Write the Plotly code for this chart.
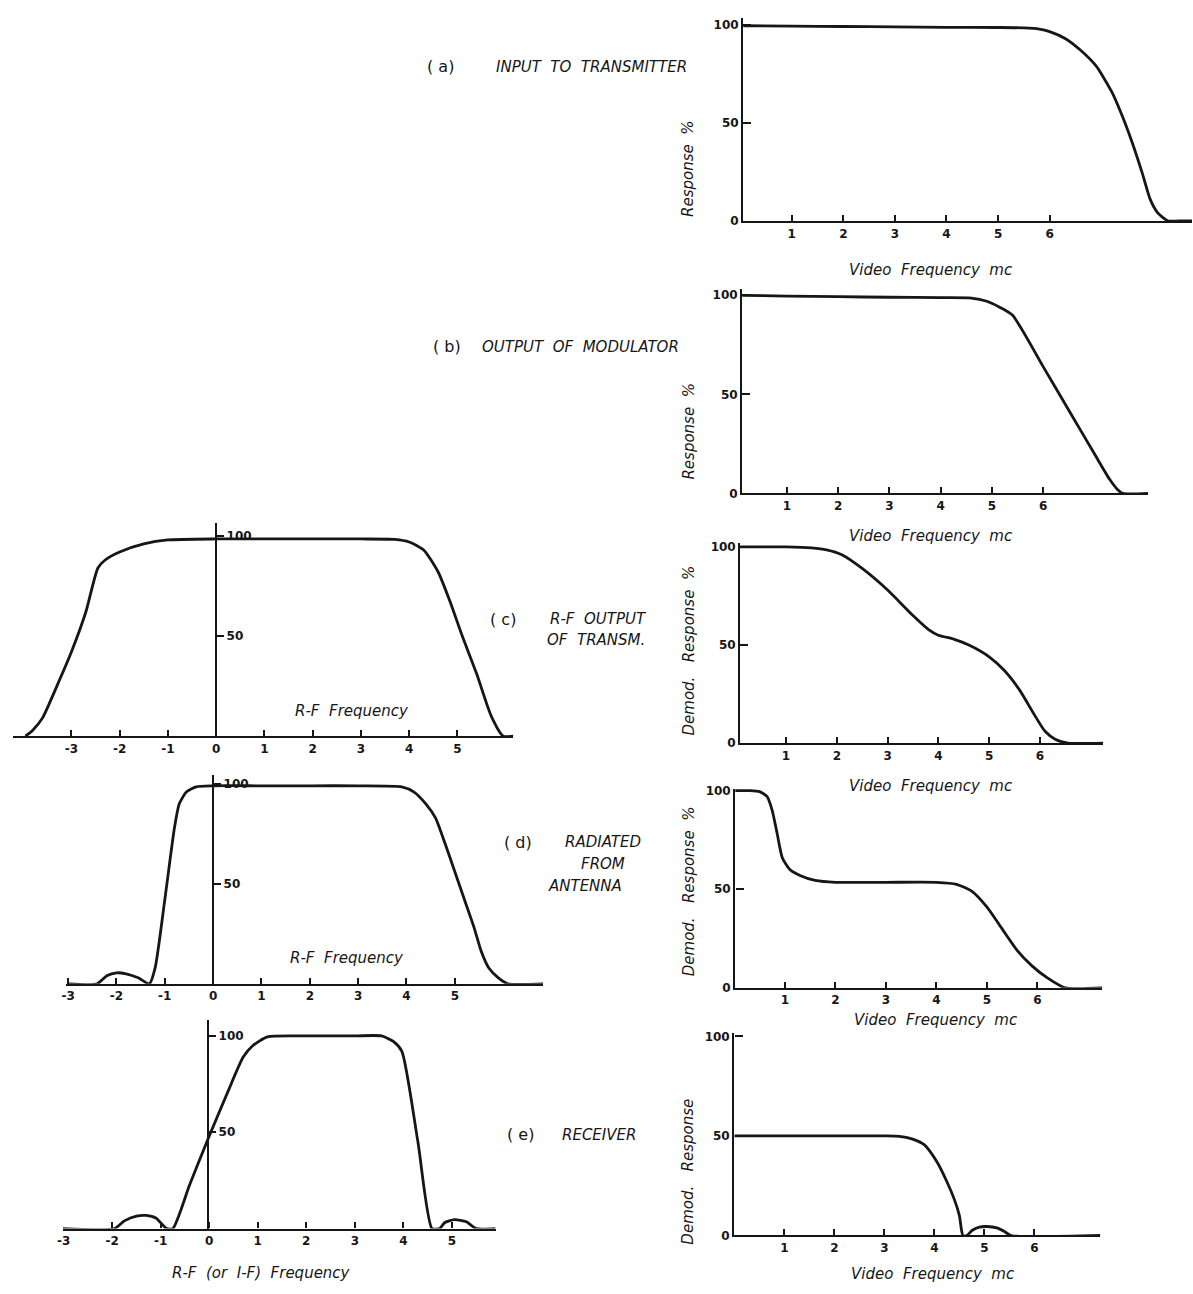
import plotly.graph_objects as go

W, H = 1193, 1294

# ---------------- data ----------------
# (a) input to transmitter, video frequency (mc) vs response %
a_x = [0, 1, 2, 3, 4, 5, 5.5, 5.8, 6.0, 6.3, 6.6, 6.9, 7.2, 7.4, 7.6, 7.8, 7.95, 8.1, 8.3, 8.5, 8.76]
a_y = [99.5, 99.3, 99.1, 98.9, 98.7, 98.6, 98.4, 97.8, 96.5, 93, 87, 79, 66, 54, 40, 24, 11, 4, 0, 0, 0]

# (b) output of modulator
b_x = [0, 1, 2, 3, 4, 4.6, 4.9, 5.15, 5.4, 6.0, 6.5, 7.0, 7.3, 7.45, 7.55, 8.05]
b_y = [100, 99.6, 99.3, 99, 98.8, 98.6, 97, 94, 90, 64, 42, 20, 7, 2, 0, 0]

# (c) R-F output of transmitter: R-F spectrum and demodulated video response
c_rf_x = [-3.95, -3.8, -3.6, -3.3, -3.0, -2.7, -2.45, -2.3, -2.0, -1.5, -1.0, 0, 1, 2, 3, 3.7, 4.0, 4.3, 4.6, 4.85, 5.1, 5.4, 5.7, 5.95, 6.16]
c_rf_y = [0, 3, 9, 25, 42, 62, 84, 88, 92, 96, 98, 98.5, 98.5, 98.5, 98.5, 98.3, 97, 93, 82, 67, 50, 31, 10, 0, 0]
c_v_x = [0, 0.5, 1, 1.5, 1.8, 2.1, 2.5, 3.0, 3.5, 3.8, 4.0, 4.3, 4.6, 5.0, 5.3, 5.6, 5.9, 6.1, 6.3, 6.55, 7.25]
c_v_y = [100, 100, 100, 99.5, 98.5, 96, 89, 78, 65, 58, 55, 53, 50, 44, 37, 27, 14, 6, 2, 0, 0]

# (d) radiated from antenna
d_rf_x = [-3, -2.4, -2.2, -2.0, -1.8, -1.55, -1.32, -1.2, -1.0, -0.8, -0.7, -0.55, -0.35, 0, 1, 2, 3, 3.9, 4.15, 4.4, 4.6, 4.8, 5.0, 5.2, 5.4, 5.55, 5.7, 5.9, 6.1, 6.83]
d_rf_y = [0, 0, 4, 5.5, 5, 3, 0, 8, 42, 78, 90, 96, 98.5, 99, 99, 99, 99, 98.5, 96, 90, 83, 70, 56, 42, 28, 16, 8, 3, 0, 0]
d_v_x = [0, 0.3, 0.5, 0.65, 0.75, 0.85, 0.95, 1.1, 1.3, 1.6, 2.0, 3.0, 4.0, 4.4, 4.7, 5.0, 5.3, 5.6, 5.9, 6.2, 6.55, 7.29]
d_v_y = [100, 100, 99.5, 97, 90, 78, 66, 60, 57, 54.5, 53.5, 53.5, 53.5, 52.5, 49, 41, 30, 19, 11, 5, 0, 0]

# (e) receiver
e_rf_x = [-3.02, -1.95, -1.75, -1.5, -1.3, -1.1, -0.88, -0.75, -0.4, 0, 0.4, 0.7, 0.9, 1.2, 2, 3, 3.55, 3.8, 3.97, 4.3, 4.59, 4.75, 4.85, 5.05, 5.3, 5.5, 5.9]
e_rf_y = [0, 0, 4, 6.5, 6.8, 5.5, 0, 0, 23, 48, 72, 89, 95, 99.5, 100, 100, 100, 97, 92, 45, 0, 0, 3, 4.6, 3.5, 0, 0]
e_v_x = [0, 1, 2, 3, 3.3, 3.55, 3.8, 4.05, 4.25, 4.4, 4.5, 4.57, 4.65, 4.75, 4.9, 5.05, 5.25, 5.4, 5.53, 7.32]
e_v_y = [50, 50, 50, 50, 49.8, 48.5, 45.5, 37, 27, 18, 10, 0, 0, 2.5, 4.2, 4.5, 3.8, 2, 0, 0]

video_ticks = [1, 2, 3, 4, 5, 6]
rf_ticks = [-3, -2, -1, 0, 1, 2, 3, 4, 5]

# ---------------- layout ----------------
INK = "#161616"
TICKFONT = dict(family="DejaVu Sans", size=12, color=INK, weight="bold")
LBLFONT = dict(family="DejaVu Sans", size=15, color=INK, style="italic")
CAPFONT = dict(family="DejaVu Sans", size=15, color=INK, style="italic")
UP = dict(family="DejaVu Sans", size=16, color=INK)

fig = go.Figure()

# (x, y, kind, L, R, T, B, xrange, yrange, yaxis_pos_px)
panels = [
    (a_x, a_y, "v", 741, 1192, 13, 218, [0.06, 8.76], [0, 103.5], None),
    (b_x, b_y, "v", 740, 1148, 287, 493, [0.13, 8.05], [0, 103], None),
    (c_v_x, c_v_y, "v", 738, 1103, 543, 745, [0.1, 7.25], [0, 102], None),
    (d_v_x, d_v_y, "v", 733, 1102, 791, 992, [0.02, 7.29], [0, 101], None),
    (e_v_x, e_v_y, "v", 732, 1100, 1038, 1242, [0.0, 7.32], [0, 101.5], None),
    (c_rf_x, c_rf_y, "rf", 7, 510, 523, 738, [-4.21, 6.16], [0, 106.4], 211),
    (d_rf_x, d_rf_y, "rf", 60, 540, 777, 988, [-3.05, 6.83], [0, 104.5], 208),
    (e_rf_x, e_rf_y, "rf", 57, 492, 1025, 1235, [-3.02, 5.9], [0, 108], 203),
]

layout = {}
for i, (xs, ys, kind, L, R, T, B, xr, yr, ypos) in enumerate(panels, start=1):
    xa = "xaxis" if i == 1 else f"xaxis{i}"
    ya = "yaxis" if i == 1 else f"yaxis{i}"
    xref = "x" if i == 1 else f"x{i}"
    yref = "y" if i == 1 else f"y{i}"
    fig.add_trace(go.Scatter(
        x=xs, y=ys, mode="lines", xaxis=xref, yaxis=yref,
        line=dict(color=INK, width=2.8, shape="spline", smoothing=0.6),
        showlegend=False, hoverinfo="skip"))
    tv = video_ticks if kind == "v" else rf_ticks
    layout[xa] = dict(
        domain=[L / W, R / W], range=xr, anchor=yref,
        showline=True, linecolor=INK, linewidth=2.4, mirror=False,
        showgrid=False, zeroline=False,
        tickmode="array", tickvals=tv, ticktext=[str(v) for v in tv],
        ticks="inside", ticklen=6, tickwidth=2, tickcolor=INK,
        tickfont=TICKFONT, fixedrange=True)
    ydom = [1 - B / H, 1 - T / H]
    if kind == "v":
        layout[ya] = dict(
            domain=ydom, range=yr, anchor=xref,
            showline=True, linecolor=INK, linewidth=2.4,
            showgrid=False, zeroline=False,
            tickmode="array", tickvals=[0, 50, 100], ticktext=["0", "50", "100"],
            ticks="inside", ticklen=8, tickwidth=2, tickcolor=INK,
            tickfont=TICKFONT, fixedrange=True)
    else:
        layout[ya] = dict(
            domain=ydom, range=yr, anchor="free", position=ypos / W, side="right",
            showline=True, linecolor=INK, linewidth=2.4,
            showgrid=False, zeroline=False,
            tickmode="array", tickvals=[50, 100], ticktext=["50", "100"],
            ticks="outside", ticklen=7, tickwidth=2, tickcolor=INK,
            tickfont=TICKFONT, fixedrange=True)

fig.update_layout(
    width=W, height=H, margin=dict(l=0, r=0, t=0, b=0),
    paper_bgcolor="white", plot_bgcolor="white", **layout)


def note(text, px, py, angle=0, font=LBLFONT, anchor="center"):
    fig.add_annotation(text=text, x=px / W, y=1 - py / H, xref="paper", yref="paper",
                       showarrow=False, textangle=angle, font=font,
                       xanchor=anchor, yanchor="middle")


# axis titles – video plots
for px, py in ((930, 267), (930, 536), (930, 788), (935, 1025), (932, 1281)):
    note("Video  Frequency  mc", px, py)
note("Response  %", 686, 165, -90)
note("Response  %", 686, 430, -90)
note("Demod.   Response  %", 686, 652, -90)
note("Demod.   Response  %", 686, 895, -90)
note("Demod.   Response", 686, 1178, -90)
# axis titles – R-F plots
note("R-F  Frequency", 348, 713)
note("R-F  Frequency", 343, 962)
note("R-F  (or  I-F)  Frequency", 257, 1280)

# panel captions
note("( a)", 437, 62, font=UP)
note("INPUT  TO  TRANSMITTER", 588, 63, font=CAPFONT)
note("( b)", 443, 345, font=UP)
note("OUTPUT  OF  MODULATOR", 577, 345, font=CAPFONT)
note("( c)", 500, 620, font=UP)
note("R-F  OUTPUT", 595, 620, font=CAPFONT)
note("OF  TRANSM.", 593, 641, font=CAPFONT)
note("( d)", 515, 845, font=UP)
note("RADIATED", 600, 845, font=CAPFONT)
note("FROM", 600, 867, font=CAPFONT)
note("ANTENNA", 582, 889, font=CAPFONT)
note("( e)", 517, 1140, font=UP)
note("RECEIVER", 596, 1141, font=CAPFONT)

fig.write_html("out.html",
               config={"displayModeBar": False},
               post_script="document.body.style.margin='0';document.body.style.overflow='hidden';")
